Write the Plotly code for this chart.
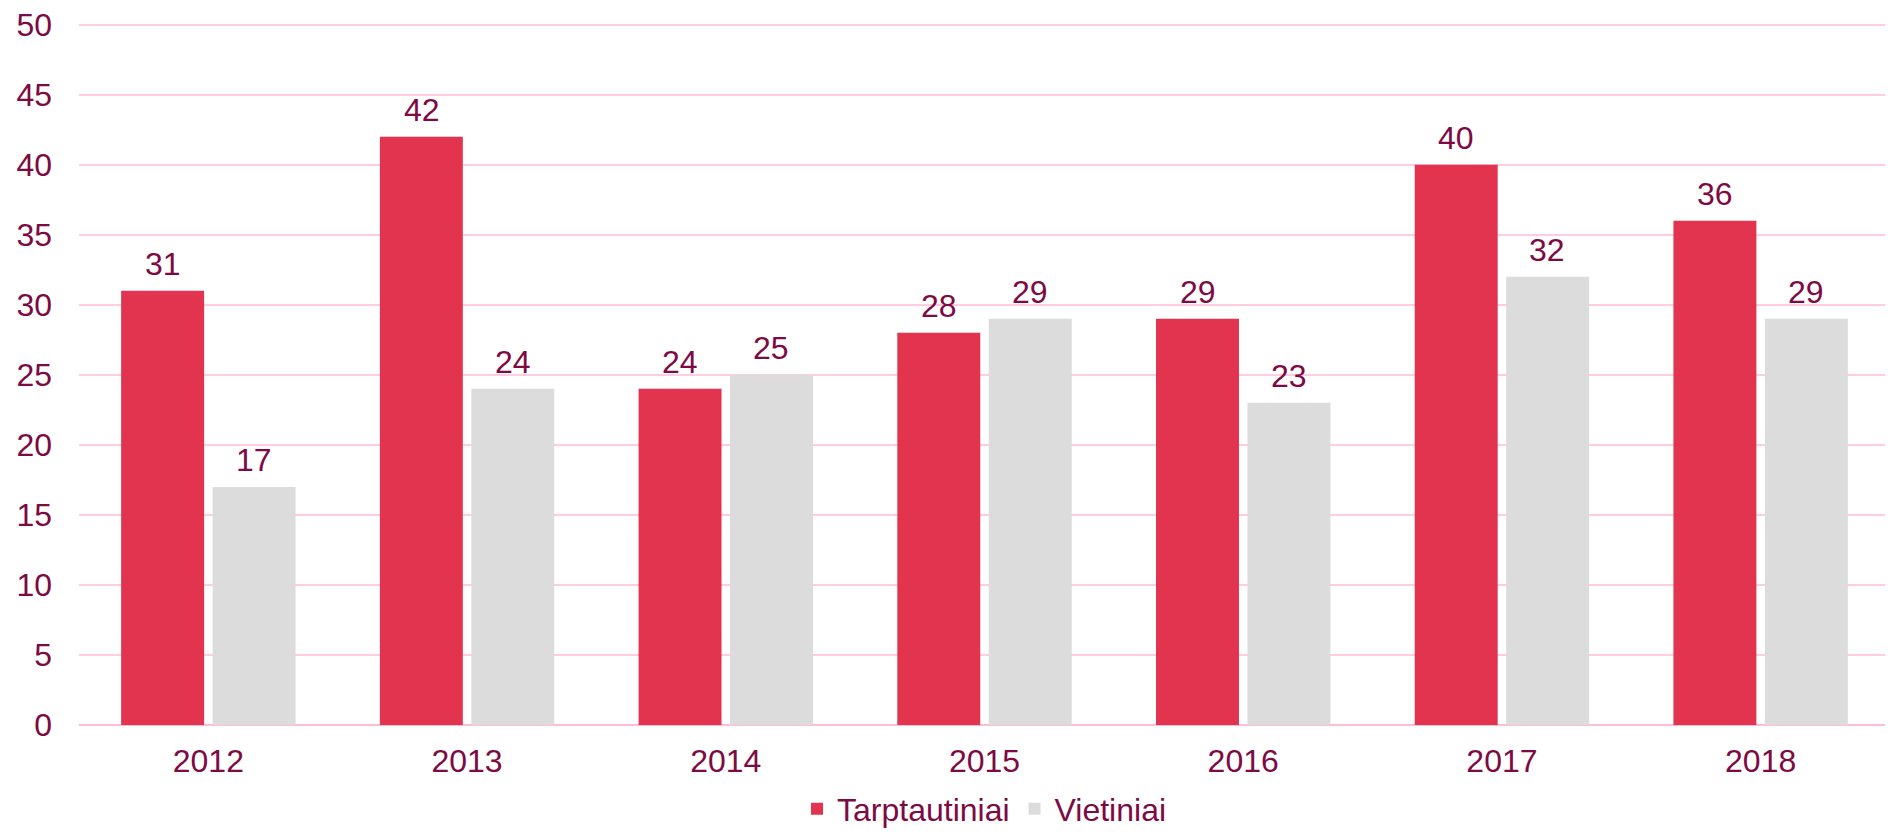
import plotly.graph_objects as go

years = ["2012", "2013", "2014", "2015", "2016", "2017", "2018"]
tarptautiniai = [31, 42, 24, 28, 29, 40, 36]
vietiniai = [17, 24, 25, 29, 23, 32, 29]
y_ticks = [0, 5, 10, 15, 20, 25, 30, 35, 40, 45, 50]

text_color = "#7D0A43"
font_family = "Liberation Sans, Arial, sans-serif"
fs = 32

fig = go.Figure()
fig.add_trace(go.Bar(
    name="Tarptautiniai", x=years, y=tarptautiniai,
    marker=dict(color="#E2334F", line=dict(width=0)),
))
fig.add_trace(go.Bar(
    name="Vietiniai", x=years, y=vietiniai,
    marker=dict(color="#DCDCDC", line=dict(width=0)),
))

# value labels above each bar (x = category index)
annotations = []
for series, shift in ((tarptautiniai, -45.5), (vietiniai, 45.5)):
    for i, v in enumerate(series):
        annotations.append(dict(
            x=i, y=v, xref="x", yref="y", text=str(v), showarrow=False,
            xanchor="center", yanchor="bottom", xshift=shift, yshift=7,
            font=dict(size=fs, color=text_color, family=font_family),
        ))

fig.update_layout(
    width=1885, height=824,
    paper_bgcolor="white", plot_bgcolor="white",
    margin=dict(l=71, r=3, t=15, b=107, autoexpand=False),
    barmode="group", bargap=0.293, bargroupgap=0.093,
    font=dict(family=font_family, color=text_color, size=fs),
    annotations=annotations,
    legend=dict(
        orientation="h", x=0.5, xanchor="center",
        yref="container", y=0.028, yanchor="middle",
        font=dict(size=fs, color=text_color), itemwidth=30,
        traceorder="normal",
    ),
    xaxis=dict(
        type="category", range=[-0.5, len(years) - 0.5],
        showgrid=False, showline=False, ticks="",
        tickfont=dict(size=fs, color=text_color), ticklabelstandoff=14,
        automargin=False,
    ),
    yaxis=dict(
        range=[0, 50.12], tickvals=y_ticks, showgrid=True,
        gridcolor="#FFCCE0", gridwidth=2, zeroline=True,
        zerolinecolor="#FFBCD6", zerolinewidth=2, showline=False,
        tickfont=dict(size=fs, color=text_color), ticklabelstandoff=26,
        ticklabeloverflow="allow", automargin=False,
    ),
)

fig.write_html("out.html")
